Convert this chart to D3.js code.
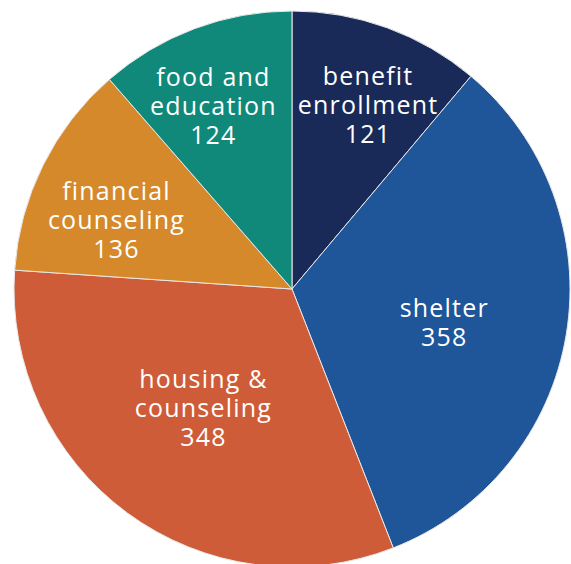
<!DOCTYPE html>
<html>
<head>
<meta charset="utf-8">
<script src="https://cdn.jsdelivr.net/npm/d3@7"></script>
<style>
  body { margin: 0; background: #fff; }
  svg { display: block; }
</style>
</head>
<body>
<svg width="571" height="564"></svg>
<script>
/*** DATA ***/
const categories = ["benefit enrollment", "shelter", "housing & counseling", "financial counseling", "food and education"];
const labelLines = [["benefit", "enrollment"], ["shelter"], ["housing &", "counseling"], ["financial", "counseling"], ["food and", "education"]];
const values = [121, 358, 348, 136, 124];
const colors = ["#1a2a58", "#1f5599", "#cf5c38", "#d5892b", "#10897a"];

/*** LAYOUT ***/
const WIDTH = 571, HEIGHT = 564;
const CX = 292, CY = 289, RADIUS = 278;
const LINE_H = 29;
// label distance (share of radius) and angle nudge (degrees), fitted to the picture
const labelPos = [[0.72, 2.3], [0.56, 2.6], [0.53, 0.7], [0.68, -4.6], [0.72, -2.6]];

const svg = d3.select("svg");
const g = svg.append("g").attr("transform", `translate(${CX},${CY})`);

const pie = d3.pie().sort(null).value(d => d.value);
const arc = d3.arc().innerRadius(0).outerRadius(RADIUS);

const data = categories.map((c, i) => ({ name: c, value: values[i], lines: labelLines[i], color: colors[i], pos: labelPos[i] }));
const arcs = pie(data);

g.selectAll("path.slice")
  .data(arcs)
  .join("path")
  .attr("class", "slice")
  .attr("d", arc)
  .attr("fill", d => d.data.color)
  .attr("stroke", "#e8e8e8")
  .attr("stroke-width", 1);

const labels = g.selectAll("text.label")
  .data(arcs)
  .join("text")
  .attr("class", "label")
  .attr("transform", d => {
    const r = RADIUS * d.data.pos[0];
    const a = (d.startAngle + d.endAngle) / 2 + d.data.pos[1] * Math.PI / 180;
    return `translate(${Math.sin(a) * r},${-Math.cos(a) * r})`;
  })
  .attr("text-anchor", "middle")
  .attr("fill", "#fff")
  .style("font-family", "'Open Sans', sans-serif")
  .style("font-size", "25px")
  .style("letter-spacing", "1.2px");

labels.each(function (d) {
  const t = d3.select(this);
  const rows = d.data.lines.concat([String(d.data.value)]);
  const top = -(rows.length - 1) * LINE_H / 2;
  rows.forEach((s, i) => {
    t.append("tspan")
      .attr("x", 0)
      .attr("y", top + i * LINE_H)
      .attr("dy", "0.4em")
      .text(s);
  });
});
</script>
</body>
</html>
